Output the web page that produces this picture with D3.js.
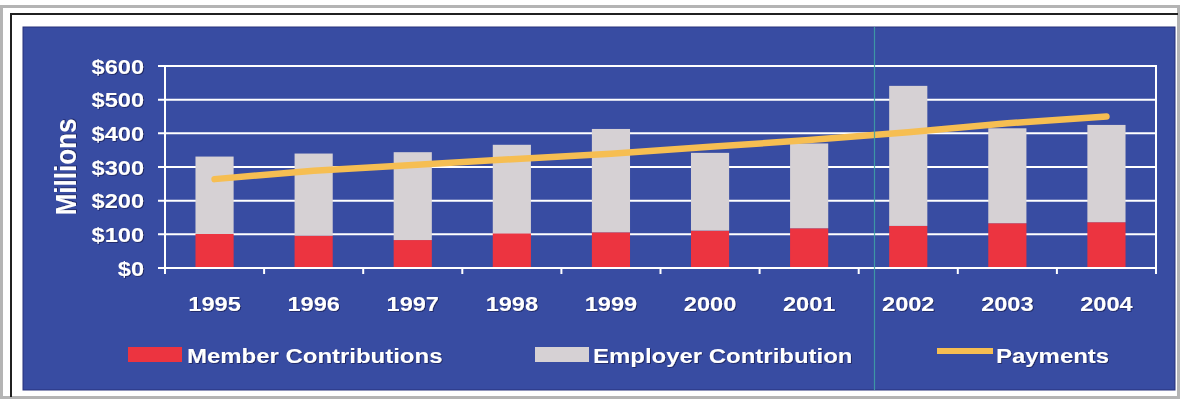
<!DOCTYPE html>
<html>
<head>
<meta charset="utf-8">
<script src="https://cdn.jsdelivr.net/npm/d3@7"></script>
<style>
  html, body { margin: 0; padding: 0; background: #ffffff; }
  svg { display: block; }
  text { font-family: "Liberation Sans", Arial, sans-serif; font-weight: bold; fill: #ffffff; }
</style>
</head>
<body>
<svg id="chart" width="1181" height="401"></svg>
<script>
// Contributions and payments, millions of dollars
const years = ["1995", "1996", "1997", "1998", "1999", "2000", "2001", "2002", "2003", "2004"];
const memberContributions = [101, 96, 83, 103, 106, 111, 118, 125, 133, 136];
const employerContribution = [230, 244, 261, 263, 307, 231, 252, 416, 282, 289];
const payments = [264, 289, 306, 323, 339, 360, 380, 403, 430, 450];
const yTicks = [0, 100, 200, 300, 400, 500, 600];
const seriesNames = ["Member Contributions", "Employer Contribution", "Payments"];

const colors = {
  panel: "#384ca2",
  member: "#ec3440",
  employer: "#d6d1d4",
  payments: "#f6be52",
  grid: "#ffffff"
};
const stretch = 1.21; // wide lettering

const svg = d3.select("#chart");

// soft shadow behind white lettering
const defs = svg.append("defs");
const shadow = defs.append("filter").attr("id", "txtShadow").attr("x", "-10%").attr("y", "-20%")
  .attr("width", "130%").attr("height", "150%");
shadow.append("feDropShadow").attr("dx", 0.8).attr("dy", 0.8).attr("stdDeviation", 0.6)
  .attr("flood-color", "#101840").attr("flood-opacity", 0.7);

// outer frame
svg.append("rect").attr("x", 1.5).attr("y", 6.5).attr("width", 1177).attr("height", 391)
  .attr("fill", "none").attr("stroke", "#b4b4b4").attr("stroke-width", 3);
svg.append("path").attr("d", "M11,397 V14 H1178")
  .attr("fill", "none").attr("stroke", "#202020").attr("stroke-width", 2);

// blue panel
svg.append("rect").attr("x", 23).attr("y", 27).attr("width", 1152).attr("height", 363)
  .attr("fill", colors.panel).attr("stroke", "#26307a").attr("stroke-width", 1);

const plot = { left: 165, right: 1156, top: 66, bottom: 268 };

const x = d3.scaleBand().domain(years)
  .range([plot.left, plot.right])
  .paddingInner(0.615).paddingOuter(0.3075);
const y = d3.scaleLinear().domain([0, 600]).range([plot.bottom, plot.top]);

const g = svg.append("g");

// horizontal gridlines with left tick stubs
g.selectAll("line.grid").data(yTicks).join("line").attr("class", "grid")
  .attr("x1", plot.left - 7).attr("x2", plot.right)
  .attr("y1", d => y(d)).attr("y2", d => y(d))
  .attr("stroke", colors.grid).attr("stroke-width", 2);

// y tick labels
g.selectAll("text.ytick").data(yTicks).join("text").attr("class", "ytick")
  .attr("transform", d => `translate(${plot.left - 21},${y(d) + 7.5}) scale(${stretch},1)`)
  .attr("text-anchor", "end").attr("font-size", 19.5).attr("filter", "url(#txtShadow)")
  .text(d => "$" + d);

// stacked bars
const stackData = years.map((yr, i) => ({ year: yr, member: memberContributions[i], employer: employerContribution[i] }));
const stacked = d3.stack().keys(["member", "employer"])(stackData);
g.selectAll("g.series").data(stacked).join("g").attr("class", "series")
  .attr("fill", d => d.key === "member" ? colors.member : colors.employer)
  .selectAll("rect").data(d => d).join("rect")
  .attr("x", d => x(d.data.year))
  .attr("width", x.bandwidth())
  .attr("y", d => y(d[1]))
  .attr("height", d => y(d[0]) - y(d[1]));

// plot frame: left axis, right edge, baseline
g.append("line").attr("x1", plot.left).attr("x2", plot.left).attr("y1", plot.top - 1).attr("y2", plot.bottom + 1)
  .attr("stroke", colors.grid).attr("stroke-width", 2);
g.append("line").attr("x1", plot.right).attr("x2", plot.right).attr("y1", plot.top - 1).attr("y2", plot.bottom + 1)
  .attr("stroke", colors.grid).attr("stroke-width", 2);
g.append("line").attr("x1", plot.left - 7).attr("x2", plot.right + 1).attr("y1", plot.bottom).attr("y2", plot.bottom)
  .attr("stroke", colors.grid).attr("stroke-width", 2);

// category boundary ticks under the baseline
const step = x.step();
const boundaries = years.map(yr => x(yr) + x.bandwidth() / 2 - step / 2).concat([plot.right]);
g.selectAll("line.xtick").data(boundaries).join("line").attr("class", "xtick")
  .attr("x1", d => d).attr("x2", d => d)
  .attr("y1", plot.bottom).attr("y2", plot.bottom + 6)
  .attr("stroke", colors.grid).attr("stroke-width", 2);

// x labels
g.selectAll("text.xlabel").data(years).join("text").attr("class", "xlabel")
  .attr("transform", d => `translate(${x(d) + x.bandwidth() / 2},311) scale(${stretch},1)`)
  .attr("text-anchor", "middle").attr("font-size", 19.5).attr("filter", "url(#txtShadow)")
  .text(d => d);

// payments line
const line = d3.line()
  .x((d, i) => x(years[i]) + x.bandwidth() / 2)
  .y(d => y(d));
g.append("path").datum(payments)
  .attr("d", line)
  .attr("fill", "none").attr("stroke", colors.payments)
  .attr("stroke-width", 6.5).attr("stroke-linecap", "round").attr("stroke-linejoin", "round");

// y axis title
svg.append("text")
  .attr("transform", "translate(76,167) scale(1.15,1) rotate(-90)")
  .attr("text-anchor", "middle").attr("font-size", 26).attr("filter", "url(#txtShadow)")
  .text("Millions");

// legend
const legend = svg.append("g");
const legendItems = [
  { name: seriesNames[0], kind: "box", color: colors.member, sx: 128, tx: 187 },
  { name: seriesNames[1], kind: "box", color: colors.employer, sx: 535, tx: 593 },
  { name: seriesNames[2], kind: "line", color: colors.payments, sx: 937, tx: 996 }
];
legendItems.forEach(item => {
  if (item.kind === "box") {
    legend.append("rect").attr("x", item.sx).attr("y", 347).attr("width", 54).attr("height", 15)
      .attr("fill", item.color);
  } else {
    legend.append("line").attr("x1", item.sx).attr("x2", item.sx + 56)
      .attr("y1", 351).attr("y2", 351)
      .attr("stroke", item.color).attr("stroke-width", 6);
  }
  legend.append("text")
    .attr("transform", `translate(${item.tx},363) scale(${stretch},1)`)
    .attr("font-size", 19.8).attr("filter", "url(#txtShadow)")
    .text(item.name);
});

// thin vertical scan line across the panel
svg.append("line").attr("x1", 874.5).attr("x2", 874.5).attr("y1", 27).attr("y2", 390)
  .attr("stroke", "#3fa3a6").attr("stroke-width", 1.2).attr("opacity", 0.85);
</script>
</body>
</html>
